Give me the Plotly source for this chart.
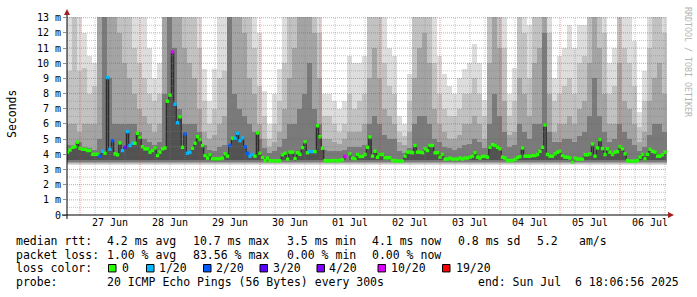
import pandas as pd
import plotly.graph_objects as go

# ---------------- data ----------------
# hourly median RTT (ms), starting 2025-06-26 19:00
median_ms = [
    4.14, 4.29, 4.46, 4.50, 4.80, 4.40, 4.33, 4.33, 4.25, 4.25,
    4.00, 4.00, 4.00, 3.88, 4.20, 4.07, 9.06, 4.33, 4.90, 4.03,
    3.97, 4.75, 4.25, 4.46, 5.50, 4.58, 4.73, 4.73, 5.38, 5.12,
    4.50, 4.36, 4.36, 4.14, 4.25, 4.42, 3.92, 4.14, 4.36, 4.42,
    7.50, 7.90, 10.74, 7.30, 6.08, 6.47, 4.46, 5.34, 4.07, 4.14,
    4.40, 4.73, 5.16, 4.97, 4.58, 3.92, 3.75, 3.97, 3.70, 3.70,
    3.70, 3.70, 3.75, 4.03, 3.88, 4.58, 5.06, 5.06, 5.38, 4.90,
    5.08, 4.50, 4.07, 3.88, 3.99, 3.88, 5.41, 4.07, 3.79, 3.59,
    3.75, 3.57, 3.57, 3.57, 3.57, 3.57, 3.97, 4.07, 3.68, 4.14,
    4.14, 3.72, 4.10, 4.00, 4.44, 4.83, 4.10, 4.18, 4.18, 4.18,
    5.88, 5.16, 4.40, 3.59, 3.57, 3.57, 3.59, 3.59, 3.57, 3.59,
    3.64, 3.86, None, 4.03, 3.75, 3.70, 3.99, 3.86, 3.86, 3.99,
    4.46, 5.14, 3.88, 4.20, 3.81, 3.99, 3.99, 3.77, 3.77, 3.77,
    3.59, 3.59, 3.55, 3.55, 3.55, 3.88, 4.14, 4.14, 4.10, 4.58,
    4.14, 4.14, 4.10, 4.36, 4.25, 4.58, 4.58, 4.10, 4.10, 3.81,
    3.99, 3.68, 3.68, 3.75, 3.68, 3.68, 3.68, 3.75, 3.68, 3.75,
    3.75, 3.81, 3.88, 4.10, 3.81, 3.75, 3.86, 3.88, 3.81, 4.46,
    4.64, 4.58, 4.46, 4.36, 3.81, 3.75, 3.59, 3.59, 3.59, 3.66,
    3.78, 3.85, 4.42, 3.88, 3.88, 3.88, 3.92, 3.92, 3.99, 4.20,
    4.46, 5.93, 3.99, 3.88, 3.88, 4.03, 4.14, 4.20, 3.92, 3.81,
    3.81, 3.75, 3.49, 3.75, 3.68, 3.68, 3.68, 3.97, 3.97, 4.03,
    4.68, 3.88, 4.42, 4.97, 4.38, 3.99, 4.36, 4.14, 3.99, 4.14,
    4.18, 4.50, 4.36, 4.03, 3.59, 3.55, 3.55, 3.55, 3.59, 3.81,
    3.99, 3.70, 3.99, 4.33, 4.20, 4.14, 3.88, 3.88, 3.97, 4.14,
]
# lost pings (out of 20) for the hourly samples that had loss
loss_events = {13: 2, 14: 1, 16: 1, 17: 1, 18: 2, 22: 1, 23: 3, 24: 1, 25: 1,
               26: 1, 42: 10, 43: 1, 44: 1, 47: 2, 48: 1, 49: 1, 65: 2, 67: 1,
               68: 1, 69: 1, 70: 1, 71: 2, 72: 2, 73: 1, 74: 1, 97: 1, 98: 1,
               111: 10}

# smoke (2-hour bins starting 2025-06-26 18:48): top of each ping-spread band (ms)
smoke_top_1 = [
    13.5, 13.5, 13.5, 12, 10.5, 10, 13.5, 13.5, 13.5, 13.5,
    13.5, 13.5, 13.5, 13.5, 13.5, 13.5, 11, 9, 10, 13.5,
    13.5, 13.5, 13.5, 13.5, 13.5, 13.5, 13.5, 9.6, 7.5, 9.6,
    13.5, 13.5, 13.5, 13.5, 13.5, 13.5, 13.5, 13.5, 12, 8.2,
    6, 8, 9.6, 13.5, 13.5, 13.5, 13.5, 13.5, 13.5, 13.5,
    13.5, 8, 8, 7.5, 7, 7.5, 10.5, 10, 10, 10.5,
    13.5, 13.5, 13.5, 13.5, 11, 10.5, 6.5, 6, 9.3, 13.5,
    13.5, 13.5, 13.5, 13.5, 10.5, 9.3, 8.5, 8, 9, 9.6,
    10, 11.3, 10, 7.6, 13.5, 13.5, 13.5, 13.5, 8, 9.7,
    13.5, 13.5, 12.5, 13.5, 13.5, 13.5, 13.5, 9, 10.5, 11,
    12.5, 11, 12.5, 12.5, 13.5, 13.5, 13.5, 13.5, 10, 11,
    13.5, 13.5, 13.5, 11.5, 6.8, 9.5, 13.5, 13.5, 13.5, 13.5,
]
smoke_top_2 = [
    9.5, 13.5, 9.5, 9.7, 8, 8.5, 13.5, 13.5, 13.5, 13.5,
    13.5, 13.5, 13.5, 11, 10, 9, 8, 7.5, 8, 13.5,
    13.5, 13.5, 13.5, 13.5, 13.5, 13.5, 11, 7.5, 6, 7,
    9, 9.5, 13.5, 13.5, 13.5, 13.5, 13.5, 11, 8.5, 6.5,
    5, 6, 7.5, 10, 13.5, 13.5, 13.5, 13.5, 13.5, 13.5,
    12, 6.5, 6.5, 6, 5.5, 6, 8, 7, 7.5, 8,
    13.5, 13.5, 13.5, 10, 8.5, 8, 5.5, 5.2, 7.5, 13.5,
    13.5, 13.5, 13.5, 10, 8, 7, 6.5, 6.5, 7, 8,
    8, 9, 8, 6.5, 13.5, 13.5, 13.5, 11, 6.5, 7.5,
    13.5, 12, 9, 13.5, 13.5, 13.5, 12, 7.5, 8, 8.5,
    9, 8, 10, 10.5, 13.5, 13.5, 13.5, 12, 8, 8.5,
    13.5, 11, 10, 8.5, 5.8, 7.5, 11, 13.5, 13.5, 12,
]
smoke_top_3 = [
    6, 6, 5.5, 6, 6, 6, 13.5, 13.5, 13.5, 13.5,
    12, 10, 9, 8, 7, 6.5, 6, 5.5, 6, 13.5,
    13.5, 13.5, 13.5, 11, 10, 9, 7, 5.5, 5, 5.3,
    6, 6.5, 13.5, 13.5, 13.5, 12, 9, 8, 6, 5,
    4.5, 4.8, 5.5, 7, 9, 11, 13.5, 13.5, 13.5, 12,
    9, 5, 5, 4.8, 4.7, 5, 5.5, 5.5, 5.5, 6,
    9, 11, 9, 7, 6.5, 6, 4.8, 4.6, 5.5, 9,
    11, 12, 10, 7, 6, 5.5, 5, 5, 5.3, 6,
    6, 6.5, 6, 5, 10, 13.5, 11, 7.5, 5.3, 5.5,
    9, 8, 6.5, 10, 11, 13.5, 8, 5.5, 6, 6,
    6.5, 6, 7, 7.5, 10, 13.5, 11, 8, 6, 6,
    10, 7.5, 7, 6, 4.8, 5.5, 7.5, 9, 10, 8,
]
smoke_top_4 = [
    4.6, 4.6, 4.8, 4.5, 4.4, 4.3, 5, 13.5, 9, 6,
    6, 6, 6, 6, 5.5, 5, 4.8, 4.6, 4.8, 8,
    13.5, 11, 7, 6, 6, 6, 5.5, 4.6, 4.3, 4.2,
    4.5, 4.6, 13.5, 8, 7, 6.5, 6, 5.5, 5, 4.4,
    4.1, 4.2, 4.5, 5, 6, 6, 7, 8, 10, 7,
    6, 4.3, 4.2, 4.2, 4.2, 4.3, 4.5, 4.5, 4.5, 4.6,
    6, 6.5, 6, 5.3, 5, 5, 4.2, 4.1, 4.4, 6,
    6.5, 6.5, 6, 5, 4.8, 4.5, 4.4, 4.3, 4.4, 4.6,
    4.7, 5, 4.8, 4.4, 6, 8, 6.5, 5.5, 4.5, 4.6,
    6, 5.5, 5, 6, 6, 12, 5.5, 4.8, 4.8, 5,
    5, 4.8, 5.2, 5.5, 6.5, 9, 6.5, 5.5, 4.8, 5,
    6, 5.5, 5, 4.6, 4.2, 4.5, 5.3, 6, 6, 5.5,
]
smoke_floor = [3.30, 3.38, 3.45, 3.52, 3.60]   # bottom of each band (fastest pings)

day_labels = ["27 Jun", "28 Jun", "29 Jun", "30 Jun", "01 Jul",
              "02 Jul", "03 Jul", "04 Jul", "05 Jul", "06 Jul"]
y_tick_vals = list(range(14))
y_tick_text = ["0"] + [f"{v} m" for v in range(1, 14)]

loss_levels = [0, 1, 2, 3, 4, 10, 19]
loss_colors = ["#26ff00", "#00b8ff", "#0059ff", "#5e00ff", "#7e00ff", "#dd00ff", "#ff0000"]

stats_rtt = ["4.2 ms avg", "10.7 ms max", "3.5 ms min", "4.1 ms now", "0.8 ms sd", "5.2", "am/s"]
stats_loss = ["1.00 % avg", "83.56 % max", "0.00 % min", "0.00 % now"]
probe_text = "20 ICMP Echo Pings (56 Bytes) every 300s"
end_text = "end: Sun Jul  6 18:06:56 2025"

# ---------------- figure ----------------
x_start = pd.Timestamp("2025-06-26 18:48")
x_end = pd.Timestamp("2025-07-06 18:48")
median_t = pd.date_range("2025-06-26 19:00", periods=len(median_ms), freq="h")
smoke_t = pd.date_range("2025-06-26 19:48", periods=len(smoke_top_1), freq="2h")

L, R, T, B = 67, 667, 15, 215
W, H = 697, 297


def px(x):
    return (x - L) / (R - L)


def py(y):
    return (B - y) / (B - T)


fig = go.Figure()
shade = ["#dddddd", "#c2c2c2", "#a4a4a4", "#7a7a7a"]
for tops, base, col in zip([smoke_top_1, smoke_top_2, smoke_top_3, smoke_top_4],
                           smoke_floor[:4], shade):
    fig.add_trace(go.Bar(x=smoke_t, y=[t - base for t in tops], base=base,
                         width=2 * 3600 * 1000, marker=dict(color=col, line=dict(width=0)),
                         hoverinfo="skip"))

core_x = [t for t, m in zip(median_t, median_ms) if m is not None]
core_y = [m for m in median_ms if m is not None]
fig.add_trace(go.Bar(x=core_x, y=[m - smoke_floor[4] for m in core_y], base=smoke_floor[4],
                     width=3600 * 1000, marker=dict(color="#525252", line=dict(width=0)),
                     hoverinfo="skip"))

fig.add_trace(go.Scatter(x=median_t, y=median_ms, mode="lines",
                         line=dict(color="#202020", width=1, shape="hvh"),
                         connectgaps=False, hoverinfo="skip"))

cmap = dict(zip(loss_levels, loss_colors))
mcol = [cmap[loss_events.get(i, 0)] for i in range(len(median_ms))]
fig.add_trace(go.Scatter(x=median_t, y=median_ms, mode="markers",
                         marker=dict(symbol="square", size=3.4, color=mcol, line=dict(width=0))))

shapes = []
# grid above the smoke
for k in range(1, 27):
    yv = k / 2
    major = (k % 2 == 0)
    shapes.append(dict(type="line", xref="paper", yref="y", x0=0, x1=1, y0=yv, y1=yv,
                       layer="above",
                       line=dict(color="rgba(222,48,48,0.5)" if major else "rgba(130,130,130,0.45)",
                                 width=1, dash="1px,1px")))
for t in pd.date_range("2025-06-27 00:00", x_end, freq="6h"):
    major = (t.hour == 0)
    shapes.append(dict(type="line", xref="x", yref="paper", x0=t, x1=t, y0=0, y1=1,
                       layer="above",
                       line=dict(color="rgba(222,48,48,0.5)" if major else "rgba(130,130,130,0.45)",
                                 width=1, dash="1px,1px")))
# axes with arrows
shapes.append(dict(type="line", xref="paper", yref="paper", x0=px(62), x1=px(669),
                   y0=py(215), y1=py(215), layer="above", line=dict(color="black", width=1)))
shapes.append(dict(type="line", xref="paper", yref="paper", x0=px(67), x1=px(67),
                   y0=py(219), y1=py(12), layer="above", line=dict(color="black", width=1)))
shapes.append(dict(type="path", xref="paper", yref="paper", layer="above",
                   path=f"M {px(668)},{py(212)} L {px(674)},{py(215)} L {px(668)},{py(218)} Z",
                   fillcolor="#a31e1e", line=dict(width=0)))
shapes.append(dict(type="path", xref="paper", yref="paper", layer="above",
                   path=f"M {px(64)},{py(13)} L {px(67)},{py(7)} L {px(70)},{py(13)} Z",
                   fillcolor="#a31e1e", line=dict(width=0)))

# legend squares
sq_x = [108.5, 146.5, 203.5, 260, 317, 378, 442.5]
for xs, col in zip(sq_x, loss_colors):
    shapes.append(dict(type="rect", xref="paper", yref="paper", x0=px(xs), x1=px(xs + 7.5),
                       y0=py(272.5), y1=py(265), fillcolor=col, line=dict(color="black", width=1)))

mono = "DejaVu Sans Mono"
ann = []


def text(x, y, s, size=11.5, color="black", **kw):
    d = dict(x=px(x), y=py(y), xref="paper", yref="paper", text=s, showarrow=False,
             xanchor="left", yanchor="middle", borderpad=0, borderwidth=0,
             font=dict(family=mono, size=size, color=color))
    d.update(kw)
    ann.append(d)


text(16, 241, "median rtt:")
for xs, s in zip([107.3, 193.3, 286.7, 372.3, 458.3, 536.7, 579.3], stats_rtt):
    text(xs, 241, s)
text(16, 255, "packet loss:")
for xs, s in zip([107.3, 193.3, 286.7, 372.3], stats_loss):
    text(xs, 255, s)
text(16, 269, "loss color:")
for xs, lv in zip([121.7, 159.3, 216, 272.7, 329.3, 391, 455.7], loss_levels):
    text(xs, 269, "0" if lv == 0 else f"{lv}/20")
text(16, 283, "probe:")
text(107.3, 283, probe_text)
text(478.3, 283, end_text)

ann.append(dict(x=px(12), y=py(113), xref="paper", yref="paper", text="Seconds",
                showarrow=False, textangle=-90, xanchor="center", yanchor="middle",
                font=dict(family=mono, size=11.5, color="black")))
ann.append(dict(x=px(688.5), y=py(60), xref="paper", yref="paper", text="RRDTOOL / TOBI OETIKER",
                showarrow=False, textangle=90, xanchor="center", yanchor="middle",
                font=dict(family=mono, size=8.3, color="#b4b4b4")))

noon = pd.date_range("2025-06-27 12:00", periods=len(day_labels), freq="D")
fig.update_layout(
    width=W, height=H, margin=dict(l=L, r=W - R, t=T, b=H - B, pad=0),
    paper_bgcolor="white", plot_bgcolor="white", showlegend=False,
    barmode="overlay", bargap=0,
    shapes=shapes, annotations=ann,
    xaxis=dict(range=[x_start, x_end], tickvals=noon, ticktext=day_labels,
               showgrid=False, zeroline=False, showline=False, ticks="",
               tickfont=dict(family=mono, size=10, color="black")),
    yaxis=dict(range=[0, 13.05], tickvals=y_tick_vals, ticktext=y_tick_text,
               showgrid=False, zeroline=False, showline=False, ticks="outside",
               ticklen=3, tickcolor="#8f8f8f",
               tickfont=dict(family=mono, size=10, color="black")),
)
fig.write_html("out.html")
